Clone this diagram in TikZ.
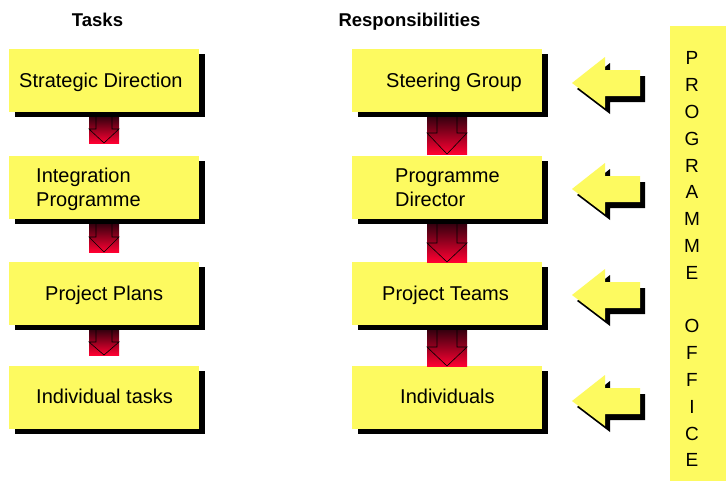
\documentclass[tikz,border=0pt]{standalone}
\usepackage{fontspec}
\setmainfont{Liberation Sans}
\usetikzlibrary{shadows}
\definecolor{boxyellow}{RGB}{253,250,96}
\definecolor{darkred}{RGB}{55,0,15}
\definecolor{brightred}{RGB}{255,0,50}
\tikzset{
  box/.style={rectangle, fill=boxyellow, minimum width=190pt, minimum height=63pt, inner sep=0pt,
    general shadow={fill=black, shadow xshift=6pt, shadow yshift=-5pt}},
  boxtext/.style={anchor=base west, font=\fontsize{20}{24.5}\selectfont, inner sep=0pt, align=left},
  title/.style={anchor=base, font=\fontsize{18.5}{22}\selectfont\bfseries, inner sep=0pt},
  letter/.style={anchor=base, font=\fontsize{19}{23}\selectfont, inner sep=0pt},
  outline/.style={draw=black, line width=0.6pt, line join=miter},
}
% #1 centre x, #2 top y, #3 head start y, #4 tip y, #5 half width, #6 half shaft
\newcommand\redarr[6]{%
  \shade[top color=darkred, bottom color=brightred] (#1-#5,#2) rectangle (#1+#5,#4);
  \draw[outline] (#1-#6,#2) -- (#1-#6,#3) -- (#1-#5,#3) -- (#1,#4) -- (#1+#5,#3) -- (#1+#6,#3) -- (#1+#6,#2);
}
% #1 centre y
\newcommand\yelarr[1]{%
  \fill[black, shift={(5,6)}] (572,#1) -- (605,#1-26) -- (605,#1-13) -- (640,#1-13) -- (640,#1+13) -- (605,#1+13) -- (605,#1+25) -- cycle;
  \fill[boxyellow] (572,#1) -- (605,#1-26) -- (605,#1-13) -- (640,#1-13) -- (640,#1+13) -- (605,#1+13) -- (605,#1+25) -- cycle;
}
\begin{document}
\begin{tikzpicture}[x=1pt,y=-1pt]
\useasboundingbox[fill=white] (0,0) rectangle (726,482);

% titles
\node[title] (ttasks) at (97.5,26) {Tasks};
\node[title] (tresp) at (409.5,26) {Responsibilities};

% left column boxes
\node[box] (L1) at (104,80.5) {};
\node[box] (L2) at (104,187.5) {};
\node[box] (L3) at (104,293.5) {};
\node[box] (L4) at (104,397.5) {};
% right column boxes
\node[box] (R1) at (447,80.5) {};
\node[box] (R2) at (447,187.5) {};
\node[box] (R3) at (447,293.5) {};
\node[box] (R4) at (447,397.5) {};

% texts
\node[boxtext] (tl1) at (19,87) {Strategic Direction};
\node[boxtext] (tl2) at (36,206.5) {Integration\\Programme};
\node[boxtext] (tl3) at (45,300) {Project Plans};
\node[boxtext] (tl4) at (36,403) {Individual tasks};
\node[boxtext] (tr1) at (386,87) {Steering Group};
\node[boxtext] (tr2) at (395,206.5) {Programme\\Director};
\node[boxtext] (tr3) at (382,300) {Project Teams};
\node[boxtext] (tr4) at (400,403) {Individuals};

% red arrows, left
\redarr{104}{117}{129}{143}{15}{8}
\redarr{104}{224}{237}{252}{15}{8}
\redarr{104}{330}{342}{355}{15}{8}
% red arrows, right
\redarr{447}{117}{133}{154}{20}{10}
\redarr{447}{224}{243}{262}{20}{10}
\redarr{447}{330}{347}{366}{20}{10}

% yellow arrows
\yelarr{83}
\yelarr{189}
\yelarr{295}
\yelarr{401}

% programme office
\node[rectangle, fill=boxyellow, minimum width=56pt, minimum height=455pt, inner sep=0pt, anchor=north west] (office) at (670,26) {};
\foreach \ch [count=\i] in {P,R,O,G,R,A,M,M,E,{},O,F,F,I,C,E}
  \node[letter] (o\i) at (692,{64.8+26.8*(\i-1)}) {\ch};
\end{tikzpicture}
\end{document}
